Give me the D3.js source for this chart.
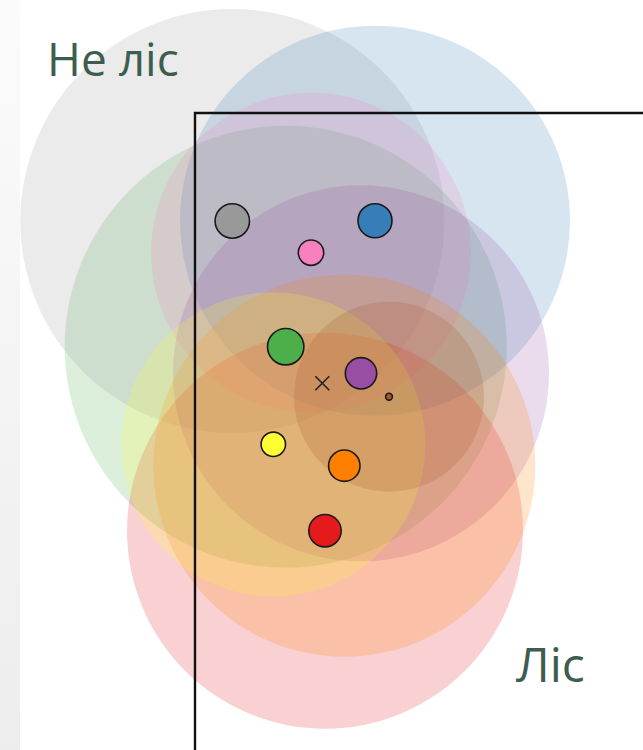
<!DOCTYPE html>
<html><head><meta charset="utf-8">
<script src="https://cdn.jsdelivr.net/npm/d3@7"></script>
<style>html,body{margin:0;padding:0;background:#fff;overflow:hidden}</style>
</head><body>
<svg id="chart" width="643" height="750"></svg>
<script>
// Data (in plot units; origin at the frame's top-left corner)
const groups   = ["gray", "blue", "pink", "green", "purple", "yellow", "orange", "red", "brown"];
const xValues  = [3.73, 18.0, 11.6, 9.07, 16.6, 7.83, 14.93, 13.0, 19.4];
const yValues  = [10.8, 10.77, 13.97, 23.37, 26.03, 33.13, 35.27, 41.77, 28.37];
const spread   = [21.2, 19.5, 16.0, 22.1, 18.8, 15.2, 19.1, 19.8, 9.5];
const weight   = [1.8, 1.78, 1.35, 1.9, 1.65, 1.3, 1.65, 1.7, 0.42];
const centroid = [12.73, 27.03];
const labels   = ["Не ліс", "Ліс"];
// stacking order of the translucent areas (bottom to top)
const layerOrder = ["green", "gray", "blue", "pink", "purple", "red", "orange", "yellow", "brown"];

const palette = ["#999999", "#377eb8", "#f781bf", "#4daf4a", "#984ea3", "#ffff33", "#ff7f00", "#e41a1c", "#a65628"];

const svg = d3.select("#chart");
const W = 643, H = 750;
const x = d3.scaleLinear().domain([0, 44.8]).range([195, 643]);
const y = d3.scaleLinear().domain([0, 63.7]).range([113, 750]);
const r = d3.scaleLinear().domain([0, 10]).range([0, 100]);
const color = d3.scaleOrdinal().domain(groups).range(palette);

// background strip on left
const defs = svg.append("defs");
const lg = defs.append("linearGradient").attr("id", "strip").attr("x1", 0).attr("y1", 0).attr("x2", 0).attr("y2", 1);
lg.append("stop").attr("offset", "0%").attr("stop-color", "#fbfbfb");
lg.append("stop").attr("offset", "100%").attr("stop-color", "#ededed");
svg.append("rect").attr("x", 0).attr("y", 0).attr("width", 20).attr("height", H).attr("fill", "url(#strip)");

const data = groups.map((g, i) => ({g, x: xValues[i], y: yValues[i], R: spread[i], w: weight[i]}));
const layered = layerOrder.map(g => data.find(d => d.g === g));

// big translucent circles
svg.append("g").selectAll("circle").data(layered).join("circle")
  .attr("cx", d => x(d.x)).attr("cy", d => y(d.y)).attr("r", d => r(d.R))
  .attr("fill", d => color(d.g)).attr("fill-opacity", 0.2);

// frame
svg.append("path")
  .attr("d", `M${x(0)},${y(63.7)}V${y(0)}H${x(44.8)}`)
  .attr("fill", "none").attr("stroke", "#111").attr("stroke-width", 2.4);

// centroid
const cx = x(centroid[0]), cy = y(centroid[1]), s = 7;
svg.append("path").attr("d", `M${cx-s},${cy-s}L${cx+s},${cy+s}M${cx-s},${cy+s}L${cx+s},${cy-s}`)
  .attr("stroke", "#222").attr("stroke-width", 1.6).attr("fill", "none");

// center dots
svg.append("g").selectAll("circle").data(data).join("circle")
  .attr("cx", d => x(d.x)).attr("cy", d => y(d.y)).attr("r", d => r(d.w) - 0.8)
  .attr("fill", d => color(d.g)).attr("stroke", "#1a1a1a").attr("stroke-width", 1.6);

// labels
svg.append("text").attr("x", 47).attr("y", 76).text(labels[0])
  .attr("font-family", "Open Sans").attr("font-size", 46).attr("fill", "#3d5e4f");
svg.append("text").attr("x", 516).attr("y", 682).text(labels[1])
  .attr("font-family", "Open Sans").attr("font-size", 48).attr("fill", "#3d5e4f");
</script>
</body></html>
